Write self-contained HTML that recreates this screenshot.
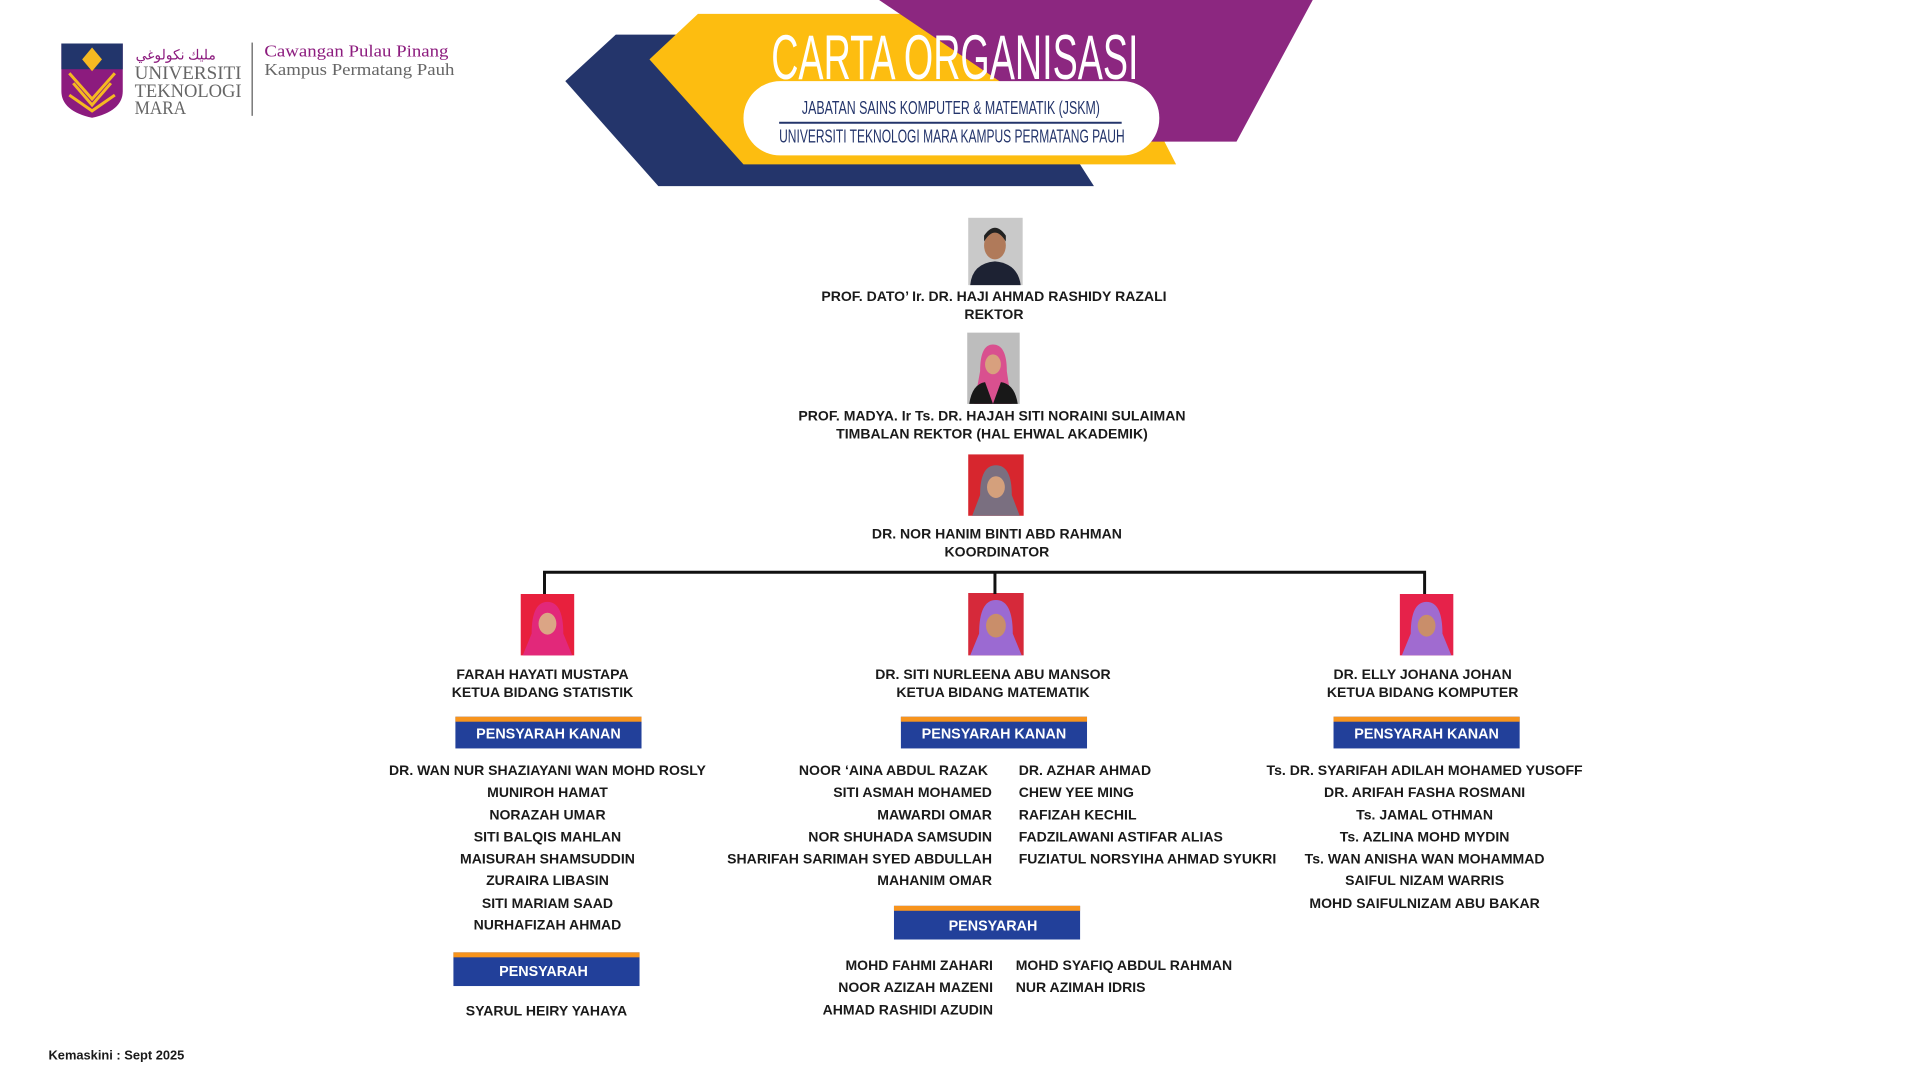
<!DOCTYPE html>
<html><head><meta charset="utf-8"><style>
html,body{margin:0;padding:0;background:#fff;width:1920px;height:1080px;overflow:hidden}
svg{display:block}
.n{font-family:"Liberation Sans",sans-serif;font-weight:bold;font-size:14.2px;fill:#1a1a1a}
.b{font-family:"Liberation Sans",sans-serif;font-weight:bold;font-size:14.5px;fill:#fff}
</style></head><body>
<svg width="1920" height="1080" viewBox="0 0 1920 1080" xmlns="http://www.w3.org/2000/svg">
<g transform="scale(0.99)">
<!-- logo -->
<path d="M62,44 H124 V92 Q124,112 93,119 Q62,112 62,92 Z" fill="#8c1b7e"/>
<path d="M62,44 H124 V70 H62 Z" fill="#22356b"/>
<path d="M93,48 L103,60 L93,72 L83,60 Z" fill="#f5b921"/>
<path d="M70,74 L93,100 L116,74 M74,84 L93,106 L112,84 M70,96 L93,112 L116,96" stroke="#f5b921" stroke-width="3" fill="none"/>
<text x="137" y="60" font-family="Liberation Serif,serif" font-size="14" fill="#8c1b7e">ﻣﻠﻴﻚ ﻧﻜﻮﻟﻮﻏﻲ</text>
<text x="136" y="80" font-family="Liberation Serif,serif" font-size="19" fill="#666" textLength="108" lengthAdjust="spacingAndGlyphs">UNIVERSITI</text>
<text x="136" y="98" font-family="Liberation Serif,serif" font-size="19" fill="#666" textLength="108" lengthAdjust="spacingAndGlyphs">TEKNOLOGI</text>
<text x="136" y="115" font-family="Liberation Serif,serif" font-size="19" fill="#666" textLength="52" lengthAdjust="spacingAndGlyphs">MARA</text>
<rect x="254" y="43" width="1.5" height="74" fill="#777"/>
<text x="267" y="57" font-family="Liberation Serif,serif" font-size="17" fill="#8c1b7e" textLength="186" lengthAdjust="spacingAndGlyphs">Cawangan Pulau Pinang</text>
<text x="267" y="76" font-family="Liberation Serif,serif" font-size="17" fill="#666" textLength="192" lengthAdjust="spacingAndGlyphs">Kampus Permatang Pauh</text>
<!-- banner -->
<polygon points="622,35 1007,35 1105,188 665,188 571,82" fill="#24356b"/>
<polygon points="705,14 1110,14 1188,166 751,166 656,60" fill="#fdbd10"/>
<polygon points="888,0 1326,0 1249,143 1100,143" fill="#8c2780"/>
<rect x="751" y="82" width="420" height="75" rx="37" fill="#fff"/>
<text x="779" y="80" font-family="Liberation Sans,sans-serif" font-size="64" fill="#fff" textLength="371" lengthAdjust="spacingAndGlyphs">CARTA ORGANISASI</text>
<text x="810" y="115" font-family="Liberation Sans,sans-serif" font-size="19" fill="#24356b" textLength="301" lengthAdjust="spacingAndGlyphs">JABATAN SAINS KOMPUTER &amp; MATEMATIK (JSKM)</text>
<rect x="787" y="123" width="346" height="2" fill="#24356b"/>
<text x="787" y="144" font-family="Liberation Sans,sans-serif" font-size="19" fill="#24356b" textLength="349" lengthAdjust="spacingAndGlyphs">UNIVERSITI TEKNOLOGI MARA KAMPUS PERMATANG PAUH</text>
<!-- photos -->
<rect x="978" y="220" width="55" height="68" fill="#c9c9c9"/>
<ellipse cx="1005" cy="248" rx="11" ry="14" fill="#b07a5a"/><path d="M994,244 Q1005,226 1016,244 L1016,238 Q1005,222 994,238Z" fill="#222"/>
<path d="M980,288 Q982,266 1005,264 Q1028,266 1031,288Z" fill="#1d2233"/>
<rect x="977" y="336" width="53" height="72" fill="#bdbdbd"/>
<path d="M990,375 Q990,348 1003,348 Q1017,348 1017,375 L1022,408 L984,408Z" fill="#d9508f"/><ellipse cx="1003" cy="368" rx="8" ry="10" fill="#d8a07e"/>
<path d="M979,408 Q982,388 995,386 L1003,408 L1011,386 Q1025,388 1028,408Z" fill="#181818"/>
<rect x="978" y="459" width="56" height="62" fill="#d7262e"/>
<path d="M990,500 Q990,470 1006,470 Q1022,470 1022,500 L1030,521 L982,521Z" fill="#7a6f80"/><ellipse cx="1006" cy="492" rx="9" ry="11" fill="#d4a07c"/>
<rect x="526" y="600" width="54" height="62" fill="#e8203d"/>
<path d="M537,640 Q537,608 553,608 Q569,608 569,640 L578,662 L528,662Z" fill="#e2287a"/><ellipse cx="553" cy="630" rx="9" ry="11" fill="#dba585"/>
<rect x="978" y="599" width="56" height="63" fill="#d6293a"/>
<path d="M989,640 Q989,606 1006,606 Q1023,606 1023,640 L1032,662 L980,662Z" fill="#9b6ad2"/><ellipse cx="1006" cy="632" rx="10" ry="12" fill="#c98e6a"/>
<rect x="1414" y="600" width="54" height="62" fill="#e6224a"/>
<path d="M1425,640 Q1425,608 1441,608 Q1457,608 1457,640 L1466,662 L1416,662Z" fill="#a06bd0"/><ellipse cx="1441" cy="632" rx="9" ry="11" fill="#c98e6a"/>
<!-- top texts -->
<g class="n" text-anchor="middle">
<text x="1004" y="304">PROF. DATO’ Ir. DR. HAJI AHMAD RASHIDY RAZALI</text>
<text x="1004" y="322">REKTOR</text>
<text x="1002" y="425">PROF. MADYA. Ir Ts. DR. HAJAH SITI NORAINI SULAIMAN</text>
<text x="1002" y="443">TIMBALAN REKTOR (HAL EHWAL AKADEMIK)</text>
<text x="1007" y="544">DR. NOR HANIM BINTI ABD RAHMAN</text>
<text x="1007" y="562">KOORDINATOR</text>
<text x="548" y="686">FARAH HAYATI MUSTAPA</text>
<text x="548" y="704">KETUA BIDANG STATISTIK</text>
<text x="1003" y="686">DR. SITI NURLEENA ABU MANSOR</text>
<text x="1003" y="704">KETUA BIDANG MATEMATIK</text>
<text x="1437" y="686">DR. ELLY JOHANA JOHAN</text>
<text x="1437" y="704">KETUA BIDANG KOMPUTER</text>
</g>
<!-- connectors -->
<path d="M550,600 V578 H1439 V600 M1005,578 V600" stroke="#111" stroke-width="3" fill="none"/>
<!-- headers -->
<g>
<rect x="460" y="724" width="188" height="32" fill="#22409a"/><rect x="460" y="724" width="188" height="5" fill="#f7941d"/>
<rect x="910" y="724" width="188" height="32" fill="#22409a"/><rect x="910" y="724" width="188" height="5" fill="#f7941d"/>
<rect x="1347" y="724" width="188" height="32" fill="#22409a"/><rect x="1347" y="724" width="188" height="5" fill="#f7941d"/>
<rect x="458" y="962" width="188" height="34" fill="#22409a"/><rect x="458" y="962" width="188" height="5" fill="#f7941d"/>
<rect x="903" y="915" width="188" height="34" fill="#22409a"/><rect x="903" y="915" width="188" height="5" fill="#f7941d"/>
</g>
<g class="b" text-anchor="middle">
<text x="554" y="746">PENSYARAH KANAN</text>
<text x="1004" y="746">PENSYARAH KANAN</text>
<text x="1441" y="746">PENSYARAH KANAN</text>
<text x="549" y="986">PENSYARAH</text>
<text x="1003" y="940">PENSYARAH</text>
</g>
<!-- lists -->
<g class="n" text-anchor="middle">
<text x="553" y="783">DR. WAN NUR SHAZIAYANI WAN MOHD ROSLY</text>
<text x="553" y="805">MUNIROH HAMAT</text>
<text x="553" y="828">NORAZAH UMAR</text>
<text x="553" y="850">SITI BALQIS MAHLAN</text>
<text x="553" y="872">MAISURAH SHAMSUDDIN</text>
<text x="553" y="894">ZURAIRA LIBASIN</text>
<text x="553" y="917">SITI MARIAM SAAD</text>
<text x="553" y="939">NURHAFIZAH AHMAD</text>
<text x="552" y="1026">SYARUL HEIRY YAHAYA</text>
<text x="1439" y="783">Ts. DR. SYARIFAH ADILAH MOHAMED YUSOFF</text>
<text x="1439" y="805">DR. ARIFAH FASHA ROSMANI</text>
<text x="1439" y="828">Ts. JAMAL OTHMAN</text>
<text x="1439" y="850">Ts. AZLINA MOHD MYDIN</text>
<text x="1439" y="872">Ts. WAN ANISHA WAN MOHAMMAD</text>
<text x="1439" y="894">SAIFUL NIZAM WARRIS</text>
<text x="1439" y="917">MOHD SAIFULNIZAM ABU BAKAR</text>
</g>
<g class="n" text-anchor="end">
<text x="998" y="783">NOOR ‘AINA ABDUL RAZAK</text>
<text x="1002" y="805">SITI ASMAH MOHAMED</text>
<text x="1002" y="828">MAWARDI OMAR</text>
<text x="1002" y="850">NOR SHUHADA SAMSUDIN</text>
<text x="1002" y="872">SHARIFAH SARIMAH SYED ABDULLAH</text>
<text x="1002" y="894">MAHANIM OMAR</text>
<text x="1003" y="980">MOHD FAHMI ZAHARI</text>
<text x="1003" y="1002">NOOR AZIZAH MAZENI</text>
<text x="1003" y="1025">AHMAD RASHIDI AZUDIN</text>
</g>
<g class="n">
<text x="1029" y="783">DR. AZHAR AHMAD</text>
<text x="1029" y="805">CHEW YEE MING</text>
<text x="1029" y="828">RAFIZAH KECHIL</text>
<text x="1029" y="850">FADZILAWANI ASTIFAR ALIAS</text>
<text x="1029" y="872">FUZIATUL NORSYIHA AHMAD SYUKRI</text>
<text x="1026" y="980">MOHD SYAFIQ ABDUL RAHMAN</text>
<text x="1026" y="1002">NUR AZIMAH IDRIS</text>
<text x="49" y="1070" style="font-size:13px">Kemaskini :  Sept 2025</text>
</g>
</g>
</svg>
</body></html>
